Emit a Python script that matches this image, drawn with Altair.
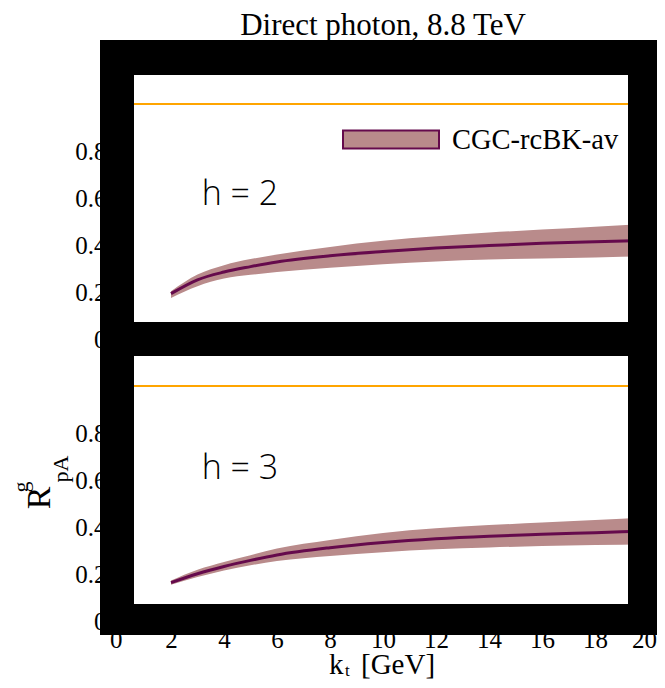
import altair as alt
import pandas as pd

# ---------------- data ----------------
kt = [2, 3, 4, 5, 6, 8, 10, 12, 14, 16, 18, 20]

h2_mid = [0.193, 0.252, 0.285, 0.308, 0.328, 0.354, 0.372, 0.387, 0.398, 0.407, 0.414, 0.420]
h2_lo = [0.175, 0.225, 0.257, 0.273, 0.285, 0.303, 0.318, 0.330, 0.338, 0.343, 0.347, 0.352]
h2_hi = [0.203, 0.274, 0.314, 0.340, 0.360, 0.392, 0.418, 0.437, 0.453, 0.466, 0.478, 0.490]

h3_mid = [0.163, 0.201, 0.232, 0.258, 0.281, 0.312, 0.334, 0.350, 0.361, 0.369, 0.376, 0.383]
h3_lo = [0.154, 0.187, 0.215, 0.237, 0.255, 0.277, 0.293, 0.305, 0.313, 0.319, 0.323, 0.327]
h3_hi = [0.172, 0.218, 0.251, 0.280, 0.308, 0.345, 0.375, 0.395, 0.408, 0.419, 0.430, 0.442]

series_name = "CGC-rcBK-av"
panel_labels = ["h = 2", "h = 3"]
ref_value = [1.0]
x_ticks = [0, 2, 4, 6, 8, 10, 12, 14, 16, 18, 20]
y_ticks = [0, 0.2, 0.4, 0.6, 0.8]
chart_title = "Direct photon, 8.8 TeV"
x_title_parts = ["k", "t", "[GeV]"]
y_title_parts = ["R", "g", "pA"]

# ---------------- style ----------------
W, H = 530, 282
SERIF = "Liberation Serif"
BAND = "#b98b8b"
LINE = "#650a4c"
ORANGE = "#ffa500"


def txt_layer(s, **kw):
    enc = {k: kw.pop(k) for k in ["x", "y"]}
    return alt.Chart(pd.DataFrame({"t": [s]})).mark_text(color="black", **kw).encode(
        text="t:N", x=alt.value(enc["x"]), y=alt.value(enc["y"]))


def bar(x1, x2, y1, y2):
    return alt.Chart(pd.DataFrame({"f": [0]})).mark_rect(color="black", opacity=1).encode(
        x=alt.value(x1), x2=alt.value(x2), y=alt.value(y1), y2=alt.value(y2))


def panel(mid, lo, hi, label, top):
    df = pd.DataFrame({"kt": kt, "mid": mid, "lo": lo, "hi": hi, "series": series_name})
    xscale = alt.Scale(domain=[0, 20], nice=False, zero=False)
    yscale = alt.Scale(domain=[0, 1.2], nice=False)
    if top:
        xaxis = None
    else:
        xaxis = alt.Axis(values=x_ticks, title=None, domain=False, ticks=False, grid=False,
                         labelFont=SERIF, labelFontSize=25, labelColor="black",
                         labelPadding=6, labelFlush=True, labelFlushOffset=8.5)
    yaxis = alt.Axis(values=y_ticks, format="~g", title=None, domain=False, ticks=False, grid=False,
                     labelFont=SERIF, labelFontSize=25, labelColor="black",
                     labelPadding=12, labelFlush=False)
    legend = None
    if top:
        legend = alt.Legend(title=None, orient="none", legendX=224, legendY=33.5, padding=0,
                            symbolType="M -1 -0.19 H 1 V 0.19 H -1 Z", symbolSize=9216,
                            symbolStrokeColor=LINE, symbolStrokeWidth=2, symbolOpacity=1,
                            labelFont=SERIF, labelFontSize=28.5, labelColor="black",
                            labelOffset=12, labelLimit=400)
    base = alt.Chart(df)
    band = base.mark_area(opacity=1, interpolate="monotone").encode(
        x=alt.X("kt:Q", scale=xscale, axis=xaxis),
        y=alt.Y("lo:Q", scale=yscale, axis=yaxis),
        y2="hi:Q",
        color=alt.Color("series:N", scale=alt.Scale(range=[BAND]), legend=legend),
    )
    line = base.mark_line(color=LINE, strokeWidth=3, interpolate="monotone").encode(x="kt:Q", y="mid:Q")
    rule = alt.Chart(pd.DataFrame({"r": ref_value})).mark_rule(color=ORANGE, strokeWidth=2).encode(y="r:Q")
    lab = txt_layer(label, font="Open Sans", fontWeight=300, fontSize=34, align="center", baseline="middle",
                    x=122, y=138 if top else 130)
    # thick black frame
    if top:
        frame = [bar(-18, 16, -17, H), bar(W - 20, W + 9, -17, H),
                 bar(-18, W + 9, -17, 18), bar(-18, W + 9, 265, H)]
    else:
        frame = [bar(-18, 16, 0, 296), bar(W - 20, W + 9, 0, 296),
                 bar(-18, W + 9, 0, 17), bar(-18, W + 9, 265, 296)]
    layers = [band, line, rule, lab] + frame
    if top:
        layers.append(txt_layer(chart_title, font=SERIF, fontSize=31, align="center", baseline="alphabetic",
                                x=W / 2, y=-22))
    else:
        layers += [
            txt_layer(y_title_parts[0], font=SERIF, fontSize=34, angle=270, align="center", baseline="middle",
                      x=-78, y=159),
            txt_layer(y_title_parts[1], font=SERIF, fontSize=22, angle=270, align="center", baseline="middle",
                      x=-97, y=148),
            txt_layer(y_title_parts[2], font=SERIF, fontSize=22, angle=270, align="center", baseline="middle",
                      x=-57, y=130),
            txt_layer(x_title_parts[0], font=SERIF, fontSize=29, align="left", baseline="alphabetic",
                      x=211, y=335),
            txt_layer(x_title_parts[1], font=SERIF, fontSize=17, align="left", baseline="alphabetic",
                      x=227, y=337),
            txt_layer(x_title_parts[2], font=SERIF, fontSize=29, align="left", baseline="alphabetic",
                      x=243, y=335),
        ]
    return alt.layer(*layers).properties(width=W, height=H)


top = panel(h2_mid, h2_lo, h2_hi, panel_labels[0], True)
bottom = panel(h3_mid, h3_lo, h3_hi, panel_labels[1], False)

chart = alt.vconcat(top, bottom, spacing=0, bounds="flush").resolve_scale(color="independent").properties(
    padding={"left": 2, "top": 2, "right": 0, "bottom": 0}
).configure_view(strokeWidth=0)

chart.save("out.html", embed_options={"renderer": "svg", "actions": False})
